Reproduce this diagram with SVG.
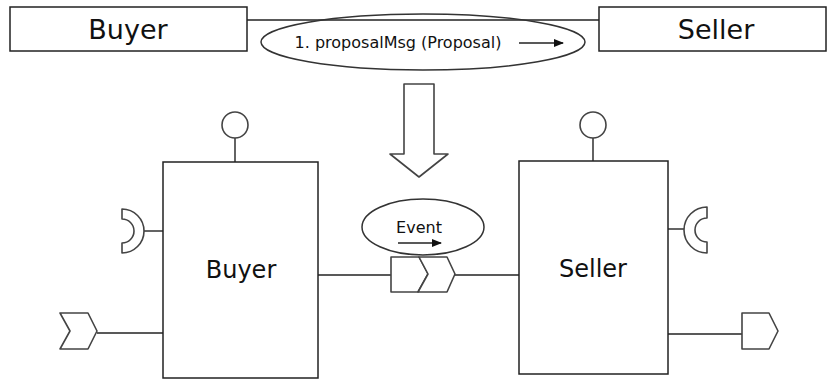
<svg xmlns="http://www.w3.org/2000/svg" width="827" height="381" viewBox="0 0 827 381">
<style>
.box{fill:#fff;stroke:#222;stroke-width:1.5}
.shp{fill:#fff;stroke:#444;stroke-width:1.6;stroke-linejoin:round}
.ln{stroke:#222;stroke-width:1.4;fill:none}
.t{font-family:"DejaVu Sans",Verdana,sans-serif;fill:#111;text-anchor:middle}
</style>
<defs>
<marker id="ah" viewBox="0 0 10 8" refX="9" refY="4" markerWidth="10" markerHeight="8" markerUnits="userSpaceOnUse" orient="auto">
<path d="M0,0 L10,4 L0,8 Z" fill="#111"/>
</marker>
</defs>
<rect width="827" height="381" fill="#fff"/>

<g id="connectors">
<line class="ln" x1="247" y1="20" x2="599" y2="20"/>
<line class="ln" x1="235" y1="138" x2="235" y2="162"/>
<line class="ln" x1="593" y1="138" x2="593" y2="161"/>
<line class="ln" x1="144" y1="231" x2="163" y2="231"/>
<line class="ln" x1="97" y1="333" x2="163" y2="333"/>
<line class="ln" x1="318" y1="275" x2="391" y2="275"/>
<line class="ln" x1="455" y1="275" x2="519" y2="275"/>
<line class="ln" x1="668" y1="229" x2="686" y2="229"/>
<line class="ln" x1="668" y1="334" x2="742" y2="334"/>
</g>

<g id="top-buyer">
<rect class="box" x="10" y="7" width="237" height="44"/>
<text class="t" x="128" y="39" font-size="27">Buyer</text>
</g>
<g id="top-seller">
<rect class="box" x="599" y="7" width="227" height="44"/>
<text class="t" x="716" y="39" font-size="27">Seller</text>
</g>
<g id="message">
<ellipse cx="423" cy="42" rx="162" ry="28" fill="none" stroke="#333" stroke-width="1.5"/>
<text class="t" x="398" y="48" font-size="16">1. proposalMsg (Proposal)</text>
<line class="ln" x1="519" y1="43" x2="563" y2="43" marker-end="url(#ah)"/>
</g>

<g id="transform-arrow">
<path class="shp" d="M404,84 L434,84 L434,154 L448,154 L419,177 L390,154 L404,154 Z"/>
</g>

<g id="buyer">
<rect class="box" x="163" y="162" width="155" height="216"/>
<text class="t" x="241" y="278" font-size="24">Buyer</text>
</g>
<g id="buyer-provided">
<circle class="shp" cx="235" cy="125" r="13"/>
</g>
<g id="buyer-required">
<path class="shp" d="M122,209 A22,22 0 0 1 122,253 L122,243 A12,12 0 0 0 122,219 Z"/>
</g>
<g id="buyer-port">
<path class="shp" d="M60,313 L88,313 L97,331 L88,349 L60,349 L70,331 Z"/>
</g>

<g id="seller">
<rect class="box" x="519" y="161" width="149" height="213"/>
<text class="t" x="593" y="277" font-size="24">Seller</text>
</g>
<g id="seller-provided">
<circle class="shp" cx="593" cy="125" r="13"/>
</g>
<g id="seller-required">
<path class="shp" d="M707,207 A23,23 0 0 0 707,253 L707,242 A12,12 0 0 1 707,218 Z"/>
</g>
<g id="seller-port">
<path class="shp" d="M742,313 L769,313 L778,331 L769,349 L742,349 Z"/>
</g>

<g id="event-port-out">
<path class="shp" d="M391,257 L419,257 L428,274 L418,292 L391,292 Z"/>
</g>
<g id="event-port-in">
<path class="shp" d="M419,257 L447,257 L455,274 L447,292 L418,292 L428,274 Z"/>
</g>
<g id="event">
<ellipse cx="423" cy="227" rx="61" ry="28" fill="#fff" stroke="#333" stroke-width="1.5"/>
<text class="t" x="419" y="233" font-size="16">Event</text>
<line class="ln" x1="398" y1="243" x2="441" y2="243" marker-end="url(#ah)"/>
</g>
</svg>
